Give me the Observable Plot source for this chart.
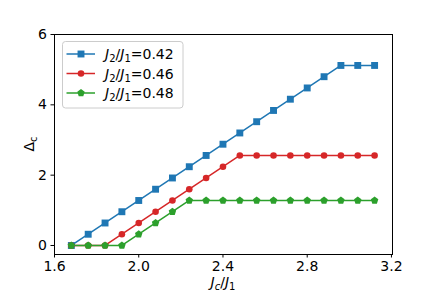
<!DOCTYPE html>
<html><head><meta charset="utf-8">
<script src="https://cdn.jsdelivr.net/npm/d3@7"></script>
<script src="https://cdn.jsdelivr.net/npm/@observablehq/plot@0.6"></script>
<style>body{margin:0;background:#fff}</style>
</head><body><div id="chart"></div>
<script>
const jc = [1.68,1.76,1.84,1.92,2.00,2.08,2.16,2.24,2.32,2.40,2.48,2.56,2.64,2.72,2.80,2.88,2.96,3.04,3.12];
const delta042 = [0,0.32,0.64,0.96,1.28,1.60,1.92,2.24,2.56,2.88,3.20,3.52,3.84,4.16,4.48,4.80,5.12,5.12,5.12];
const delta046 = [0,0,0,0.32,0.64,0.96,1.28,1.60,1.92,2.24,2.56,2.56,2.56,2.56,2.56,2.56,2.56,2.56,2.56];
const delta048 = [0,0,0,0,0.32,0.64,0.96,1.28,1.28,1.28,1.28,1.28,1.28,1.28,1.28,1.28,1.28,1.28,1.28];
const ratios = ["0.42","0.46","0.48"];
const colors = ["#1f77b4","#d62728","#2ca02c"];
const xTicks = [1.6,2.0,2.4,2.8,3.2];
const yTicks = [0,2,4,6];

const pentagon = {draw(ctx, size){
  const R = Math.sqrt(size/2.3776);
  for (let i=0;i<5;i++){const a=-Math.PI/2+i*2*Math.PI/5;const x=R*Math.cos(a),y=R*Math.sin(a);i?ctx.lineTo(x,y):ctx.moveTo(x,y);}
  ctx.closePath();
}};
const symbols = ["square","circle",pentagon];
const radii = [3.9,3.3,3.4];
const seriesVals = [delta042, delta046, delta048];
const tables = seriesVals.map((vals,k)=>jc.map((x,i)=>({x, y: vals[i], s: ratios[k]})));

const FONT = "DejaVu Sans";
function legendAndLabels(index, scales, values, dims){
  const g = d3.create("svg:g").attr("font-family", FONT).attr("fill","black");
  const lg = g.append("g");
  lg.append("rect").attr("x",62.5).attr("y",41.5).attr("width",120.5).attr("height",66.5)
    .attr("rx",3).attr("fill","white").attr("fill-opacity",0.8).attr("stroke","#cccccc");
  const rowsY = [54,73.5,93];
  ratios.forEach((r,k)=>{
    const y = rowsY[k];
    lg.append("line").attr("x1",66.5).attr("x2",95).attr("y1",y).attr("y2",y)
      .attr("stroke",colors[k]).attr("stroke-width",1.5);
    const sym = d3.symbol().type(k===0?d3.symbolSquare:k===1?d3.symbolCircle:pentagon).size(Math.PI*radii[k]*radii[k]);
    lg.append("path").attr("d",sym()).attr("transform",`translate(81,${y})`).attr("fill",colors[k]);
    const t = lg.append("text").attr("x",105).attr("y",y+5).attr("font-size",14).attr("text-anchor","start");
    t.append("tspan").attr("font-style","italic").text("J");
    t.append("tspan").attr("font-size",10).attr("dy",3).text("2");
    t.append("tspan").attr("dy",-3).text("/");
    t.append("tspan").attr("font-style","italic").text("J");
    t.append("tspan").attr("font-size",10).attr("dy",3).text("1");
    t.append("tspan").attr("dy",-3).text("=" + r);
  });
  const xl = g.append("text").attr("x",223).attr("y",287).attr("font-size",14).attr("text-anchor","middle");
  xl.append("tspan").attr("font-style","italic").text("J");
  xl.append("tspan").attr("font-size",10).attr("font-style","italic").attr("dy",3).text("c");
  xl.append("tspan").attr("dy",-3).text("/");
  xl.append("tspan").attr("font-style","italic").text("J");
  xl.append("tspan").attr("font-size",10).attr("dy",3).text("1");
  const yl = g.append("text").attr("transform","translate(34,144) rotate(-90)").attr("font-size",14).attr("text-anchor","middle");
  yl.append("tspan").text("Δ");
  yl.append("tspan").attr("font-size",10).attr("dy",3).text("c");
  return g.node();
}

const marks = [];
tables.forEach((t,k)=>{
  marks.push(Plot.line(t,{x:"x",y:"y",stroke:colors[k],strokeWidth:1.5}));
});
tables.forEach((t,k)=>{
  marks.push(Plot.dot(t,{x:"x",y:"y",fill:colors[k],stroke:"none",symbol:symbols[k],r:radii[k]}));
});

const chart = Plot.plot({
  width: 436, height: 291,
  marginLeft: 54, marginRight: 44, marginTop: 34, marginBottom: 37,
  style: {fontFamily: FONT, fontSize: "14px", color: "black", background: "white"},
  x: {domain:[1.6,3.205], ticks: xTicks},
  y: {domain:[-0.256,6], ticks: yTicks},
  marks: [
    Plot.axisX({ticks: xTicks, tickFormat: d=>d.toFixed(1), tickSize: 3.5, tickPadding: 3, fontSize: 14, label: null}),
    Plot.axisY({ticks: yTicks, tickFormat: d=>String(d), tickSize: 3.5, tickPadding: 4, fontSize: 14, label: null}),
    ...marks,
    Plot.frame({stroke:"black", strokeWidth:1}),
    legendAndLabels
  ]
});
document.getElementById("chart").appendChild(chart);
</script>
</body></html>
